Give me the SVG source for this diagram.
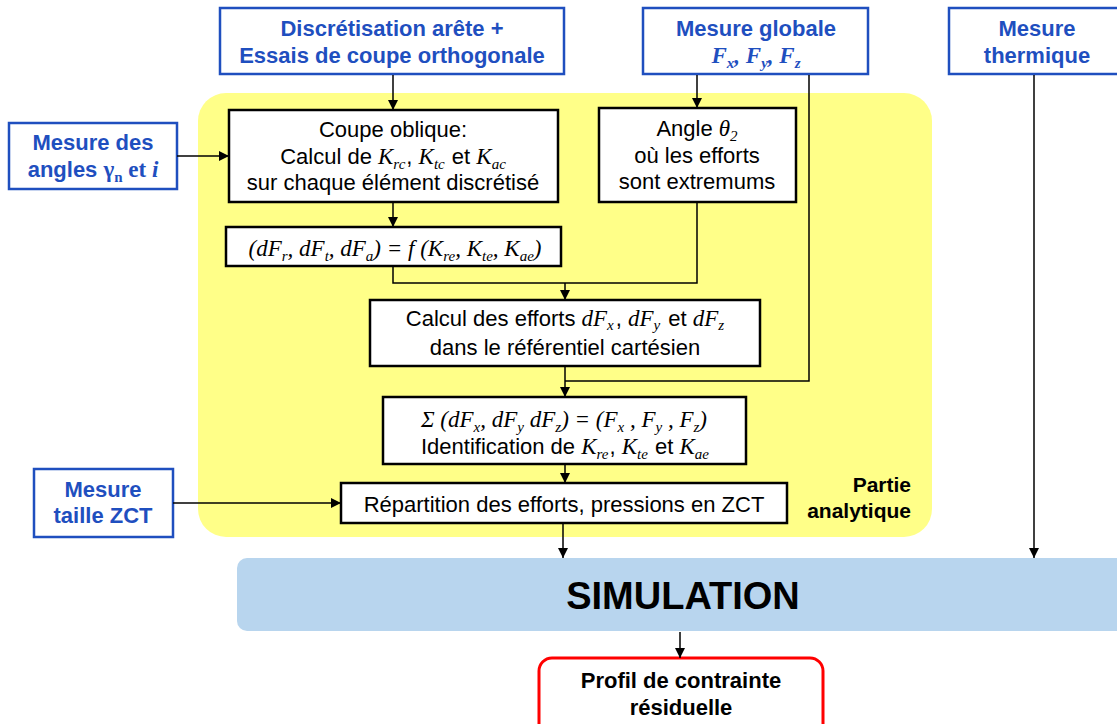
<svg xmlns="http://www.w3.org/2000/svg" width="1117" height="724" viewBox="0 0 1117 724">
<defs>
<marker id="arr" markerUnits="userSpaceOnUse" markerWidth="10" markerHeight="10" viewBox="0 0 10 10" refX="10" refY="5" orient="auto">
<path d="M0,0 L10,5 L0,10 z" fill="#000"/>
</marker>
<style>
.bbox{fill:#fff;stroke:#1f4fbf;stroke-width:2.5}
.kbox{fill:#fff;stroke:#000;stroke-width:2.5}
.bt{font-family:"Liberation Sans",Arial,sans-serif;font-weight:bold;font-size:22px;fill:#1f4fbf;text-anchor:middle}
.t{font-family:"Liberation Sans",Arial,sans-serif;font-size:22px;fill:#000;text-anchor:middle}
.m{font-family:"Liberation Serif","Times New Roman",serif;font-style:italic;font-size:23px}
.mb{font-family:"Liberation Serif","Times New Roman",serif;font-weight:bold;font-size:23px}
.s{font-size:15px}
.c{fill:none;stroke:#000;stroke-width:1.5}
</style>
</defs>
<rect id="zone-analytique" x="198" y="93" width="734" height="444" rx="28" fill="#ffff88"/>
<g id="discretisation">
<rect class="bbox" x="220" y="8" width="344" height="66"/>
<text class="bt" x="392" y="36">Discrétisation arête +</text>
<text class="bt" x="392" y="63">Essais de coupe orthogonale</text>
</g>
<g id="mesure-globale">
<rect class="bbox" x="643" y="8" width="225" height="66"/>
<text class="bt" x="756" y="36">Mesure globale</text>
<text class="bt" x="756" y="63"><tspan class="mb" font-style="italic">F</tspan><tspan class="mb s" font-style="italic" dy="5">x</tspan><tspan class="mb" font-style="italic" dy="-5">, F</tspan><tspan class="mb s" font-style="italic" dy="5">y</tspan><tspan class="mb" font-style="italic" dy="-5">, F</tspan><tspan class="mb s" font-style="italic" dy="5">z</tspan></text>
</g>
<g id="mesure-thermique">
<rect class="bbox" x="949" y="8" width="176" height="66"/>
<text class="bt" x="1037" y="36">Mesure</text>
<text class="bt" x="1037" y="63">thermique</text>
</g>
<g id="mesure-angles">
<rect class="bbox" x="9" y="123" width="168" height="66"/>
<text class="bt" x="93" y="150">Mesure des</text>
<text class="bt" x="93" y="177">angles <tspan class="mb">γ</tspan><tspan class="mb s" dy="5">n</tspan><tspan class="mb" dy="-5"> et </tspan><tspan class="mb" font-style="italic">i</tspan></text>
</g>
<g id="mesure-zct">
<rect class="bbox" x="34" y="469" width="139" height="68"/>
<text class="bt" x="103" y="497">Mesure</text>
<text class="bt" x="103" y="523">taille ZCT</text>
</g>
<g id="coupe-oblique">
<rect class="kbox" x="229" y="110" width="329" height="92"/>
<text class="t" x="393" y="137">Coupe oblique:</text>
<text class="t" x="393" y="164">Calcul de <tspan class="m">K</tspan><tspan class="m s" dy="5">rc</tspan><tspan dy="-5" dx="1">, </tspan><tspan class="m">K</tspan><tspan class="m s" dy="5">tc</tspan><tspan dy="-5" dx="1"> et </tspan><tspan class="m">K</tspan><tspan class="m s" dy="5">ac</tspan></text>
<text class="t" x="393" y="190">sur chaque élément discrétisé</text>
</g>
<g id="angle-theta">
<rect class="kbox" x="599" y="108" width="197" height="94"/>
<text class="t" x="697" y="136">Angle <tspan class="m">θ</tspan><tspan class="m s" dy="5">2</tspan></text>
<text class="t" x="697" y="163">où les efforts</text>
<text class="t" x="697" y="189">sont extremums</text>
</g>
<g id="formule">
<rect class="kbox" x="226" y="227" width="335" height="39"/>
<text class="t" x="395" y="256"><tspan class="m">(dF</tspan><tspan class="m s" dy="5">r</tspan><tspan class="m" dy="-5">, dF</tspan><tspan class="m s" dy="5">t</tspan><tspan class="m" dy="-5">, dF</tspan><tspan class="m s" dy="5">a</tspan><tspan class="m" dy="-5">) = f (K</tspan><tspan class="m s" dy="5">re</tspan><tspan class="m" dy="-5">, K</tspan><tspan class="m s" dy="5">te</tspan><tspan class="m" dy="-5">, K</tspan><tspan class="m s" dy="5">ae</tspan><tspan class="m" dy="-5">)</tspan></text>
</g>
<g id="calcul-efforts">
<rect class="kbox" x="370" y="300" width="390" height="66"/>
<text class="t" x="565" y="326">Calcul des efforts <tspan class="m">dF</tspan><tspan class="m s" dy="4">x</tspan><tspan dy="-4" dx="2">, </tspan><tspan class="m">dF</tspan><tspan class="m s" dy="4">y</tspan><tspan dy="-4" dx="2"> et </tspan><tspan class="m">dF</tspan><tspan class="m s" dy="4">z</tspan></text>
<text class="t" x="565" y="355">dans le référentiel cartésien</text>
</g>
<g id="identification">
<rect class="kbox" x="383" y="397" width="363" height="67"/>
<text class="t" x="564" y="427"><tspan class="m">Σ (dF</tspan><tspan class="m s" dy="5">x</tspan><tspan class="m" dy="-5">, dF</tspan><tspan class="m s" dy="5">y</tspan><tspan class="m" dy="-5"> dF</tspan><tspan class="m s" dy="5">z</tspan><tspan class="m" dy="-5">) = (F</tspan><tspan class="m s" dy="5">x</tspan><tspan class="m" dy="-5"> , F</tspan><tspan class="m s" dy="5">y</tspan><tspan class="m" dy="-5"> , F</tspan><tspan class="m s" dy="5">z</tspan><tspan class="m" dy="-5">)</tspan></text>
<text class="t" x="565" y="454">Identification de <tspan class="m">K</tspan><tspan class="m s" dy="5">re</tspan><tspan dy="-5" dx="1">, </tspan><tspan class="m">K</tspan><tspan class="m s" dy="5">te</tspan><tspan dy="-5" dx="1"> et </tspan><tspan class="m">K</tspan><tspan class="m s" dy="5">ae</tspan></text>
</g>
<g id="repartition">
<rect class="kbox" x="341" y="483" width="446" height="40"/>
<text class="t" x="564" y="512">Répartition des efforts, pressions en ZCT</text>
</g>
<g id="label-partie">
<text x="911" y="492" font-family="Liberation Sans,Arial,sans-serif" font-weight="bold" font-size="21" text-anchor="end">Partie</text>
<text x="911" y="518" font-family="Liberation Sans,Arial,sans-serif" font-weight="bold" font-size="21" text-anchor="end">analytique</text>
</g>
<g id="simulation">
<rect x="237" y="558" width="895" height="73" rx="10" fill="#b8d5ee"/>
<text x="683" y="609" font-family="Liberation Sans,Arial,sans-serif" font-weight="bold" font-size="38" text-anchor="middle">SIMULATION</text>
</g>
<g id="profil">
<rect x="539" y="658" width="284" height="80" rx="13" fill="#fff" stroke="#ff0000" stroke-width="3"/>
<text x="681" y="688" font-family="Liberation Sans,Arial,sans-serif" font-weight="bold" font-size="22" text-anchor="middle">Profil de contrainte</text>
<text x="681" y="715" font-family="Liberation Sans,Arial,sans-serif" font-weight="bold" font-size="22" text-anchor="middle">résiduelle</text>
</g>
<g id="connectors">
<path class="c" d="M393,75 V110" marker-end="url(#arr)"/>
<path class="c" d="M697,75 V108" marker-end="url(#arr)"/>
<path class="c" d="M809,75 V381 H565"/>
<path class="c" d="M177,156 H229" marker-end="url(#arr)"/>
<path class="c" d="M393,203 V227" marker-end="url(#arr)"/>
<path class="c" d="M393,267 V283 H697 V203"/>
<path class="c" d="M565,283 V300" marker-end="url(#arr)"/>
<path class="c" d="M565,367 V397" marker-end="url(#arr)"/>
<path class="c" d="M565,465 V483" marker-end="url(#arr)"/>
<path class="c" d="M173,503 H341" marker-end="url(#arr)"/>
<path class="c" d="M563,524 V558" marker-end="url(#arr)"/>
<path class="c" d="M1034,75 V558" marker-end="url(#arr)"/>
<path class="c" d="M680,632 V658" marker-end="url(#arr)"/>
</g>
</svg>
